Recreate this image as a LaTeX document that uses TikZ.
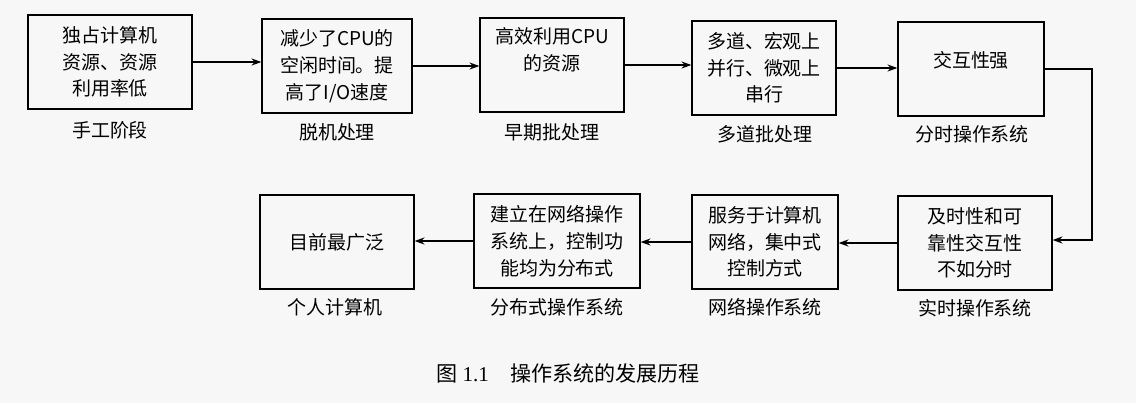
\documentclass[tikz,border=0pt]{standalone}
\usepackage{fontspec}
\setmainfont{Liberation Serif}
\newfontfamily\cjk{Noto Sans CJK SC}
\usetikzlibrary{arrows.meta}
\begin{document}
\begin{tikzpicture}[x=0.025cm,y=-0.025cm,
  bx/.style={draw,line width=0.9pt,minimum width=#1*0.025cm,minimum height=94*0.025cm,align=center,font=\cjk\fontsize{13.5}{19}\selectfont,inner sep=2pt},
  lb/.style={font=\cjk\fontsize{13.5}{16}\selectfont},
  ar/.style={-{Stealth[length=7pt,width=5pt]},line width=0.8pt}]
\fill[gray!6] (0,0) rectangle (1136,403);
\useasboundingbox (0,0) rectangle (1136,403);
\node[bx=164] (a1) at (110,62) {独占计算机\\资源、资源\\利用率低};
\node[bx=150] (a2) at (337,66) {减少了CPU的\\空闲时间。提\\高了I/O速度};
\node[bx=144] (a3) at (552,65) {高效利用CPU\\的资源\\[4pt]};
\node[bx=144] (a4) at (764,68) {多道、宏观上\\并行、微观上\\串行};
\node[bx=146] (a5) at (971,69) {交互性强\\[-6pt]};
\node[lb] (l1) at (110,130) {手工阶段};
\node[lb] (l2) at (337,132) {脱机处理};
\node[lb] (l3) at (552,132) {早期批处理};
\node[lb] (l4) at (765,134) {多道批处理};
\node[lb] (l5) at (972,134) {分时操作系统};
\node[bx=154] (b1) at (337,242) {目前最广泛};
\node[bx=166] (b2) at (557,241) {建立在网络操作\\系统上，控制功\\能均为分布式};
\node[bx=146] (b3) at (765,242) {服务于计算机\\网络，集中式\\控制方式};
\node[bx=154] (b4) at (975,243) {及时性和可\\靠性交互性\\不如分时};
\node[lb] (m1) at (335,307) {个人计算机};
\node[lb] (m2) at (557,307) {分布式操作系统};
\node[lb] (m3) at (765,307) {网络操作系统};
\node[lb] (m4) at (975,308) {实时操作系统};
\node[font=\fontsize{15}{17}\selectfont] (cap) at (568,373) {{\cjk 图} 1.1\quad{\cjk 操作系统的发展历程}};
\draw[ar] (a1.east) -- (a2.west |- a1.east);
\draw[ar] (a2.east) -- (a3.west |- a2.east);
\draw[ar] (a3.east) -- (a4.west |- a3.east);
\draw[ar] (a4.east) -- (a5.west |- a4.east);
\coordinate (c1) at (1092,69);
\coordinate (c2) at (1092,240);
\draw[ar] (a5.east) -- (c1) -- (c2) -- (b4.east |- c2);
\draw[ar] (b4.west) -- (b3.east |- b4.west);
\draw[ar] (b3.west) -- (b2.east |- b3.west);
\draw[ar] (b2.west) -- (b1.east |- b2.west);
\end{tikzpicture}
\end{document}
